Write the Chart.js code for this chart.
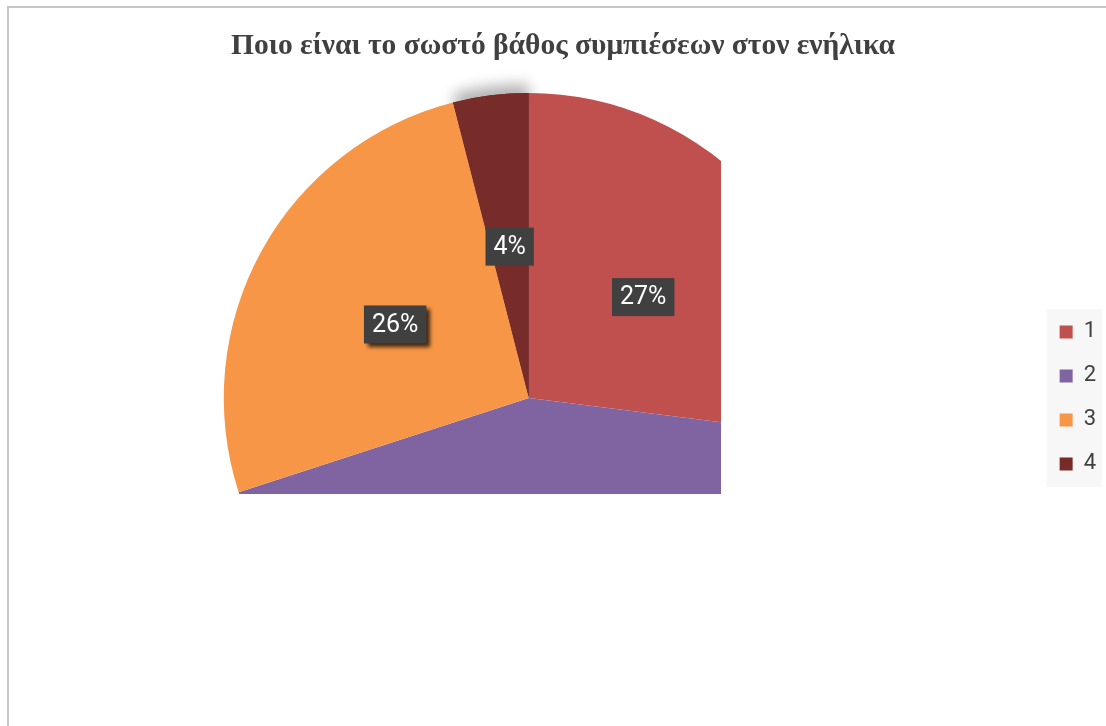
<!DOCTYPE html>
<html>
<head>
<meta charset="utf-8">
<script src="https://cdn.jsdelivr.net/npm/chart.js@4.4.0/dist/chart.umd.min.js"></script>
<style>
    html, body { margin: 0; padding: 0; background: #fff; overflow: hidden; }
    #marco {
        position: absolute; left: 7px; top: 6px; width: 1200px; height: 800px;
        border-left: 2px solid #c6c6c6; border-top: 2px solid #c6c6c6;
    }
    #grafico { position: absolute; left: 0; top: 0; }
</style>
</head>
<body>
<div id="marco"></div>
<canvas id="grafico" width="1106" height="726"></canvas>
<script>
const titulo = "Ποιο είναι το σωστό βάθος συμπιέσεων στον ενήλικα";
const categorias = ["1", "2", "3", "4"];
const porcentajes = [27, 43, 26, 4];
const colores = ["#C0504D", "#8064A2", "#F79646", "#772C2A"];

const ctx1 = document.getElementById("grafico").getContext("2d");

// el pastel queda cortado a la derecha y abajo
const recorte = { derecha: 721, abajo: 494 };

// fondo gris claro detrás de la leyenda
const pluginFondoLeyenda = {
    id: "fondoLeyenda",
    beforeDraw: (chart) => {
        const cajas = chart.legend.legendHitBoxes;
        if (!cajas || !cajas.length) return;
        const primera = cajas[0];
        const ultima = cajas[cajas.length - 1];
        const ctx = chart.ctx;
        ctx.save();
        ctx.fillStyle = "#f7f7f7";
        ctx.fillRect(
            primera.left - 13,
            primera.top - 12,
            55,
            ultima.top + ultima.height - primera.top + 24
        );
        ctx.restore();
    },
};

const pluginRecorte = {
    id: "recorte",
    beforeDatasetsDraw: (chart) => {
        const ctx = chart.ctx;
        ctx.save();
        ctx.beginPath();
        ctx.rect(0, 0, recorte.derecha, recorte.abajo);
        ctx.clip();
        // sombra suave sobre la porción 4
        const arco = chart.getDatasetMeta(0).data[3];
        ctx.save();
        ctx.shadowColor = "rgba(0, 0, 0, 0.3)";
        ctx.shadowBlur = 14;
        ctx.shadowOffsetY = -9;
        arco.draw(ctx);
        ctx.restore();
    },
    afterDatasetsDraw: (chart) => {
        const ctx = chart.ctx;
        const meta = chart.getDatasetMeta(0);
        ctx.font = "25px Roboto";
        ctx.textAlign = "center";
        ctx.textBaseline = "middle";
        meta.data.forEach((arco, i) => {
            const { x, y } = arco.tooltipPosition();
            const texto = porcentajes[i] + "%";
            const ancho = ctx.measureText(texto).width + 16;
            const alto = 38;
            ctx.save();
            if (i === 2) {
                ctx.shadowColor = "rgba(0, 0, 0, 0.75)";
                ctx.shadowBlur = 4;
                ctx.shadowOffsetX = 4;
                ctx.shadowOffsetY = 4;
            }
            ctx.fillStyle = "#404040";
            ctx.fillRect(x - ancho / 2, y - alto / 2, ancho, alto);
            ctx.restore();
            ctx.fillStyle = "#ffffff";
            ctx.fillText(texto, x, y + 1);
        });
        ctx.restore();
    },
};

new Chart(ctx1, {
    type: "pie",
    data: {
        labels: categorias,
        datasets: [
            {
                data: porcentajes,
                backgroundColor: colores,
                borderWidth: 0,
            },
        ],
    },
    options: {
        responsive: false,
        animation: false,
        layout: {
            padding: { left: 20, right: 0, top: 0, bottom: 23 },
        },
        plugins: {
            title: {
                display: true,
                text: titulo,
                color: "#404040",
                font: {
                    family: "'Liberation Serif', 'Times New Roman', serif",
                    size: 29.5,
                    weight: "bold",
                    lineHeight: 1.2,
                },
                padding: { top: 29, bottom: 28.5 },
            },
            legend: {
                position: "right",
                fullSize: false,
                labels: {
                    boxWidth: 13,
                    boxHeight: 13,
                    padding: 22,
                    color: "#404040",
                    font: { family: "Roboto", size: 22 },
                },
            },
            tooltip: { enabled: false },
        },
    },
    plugins: [pluginFondoLeyenda, pluginRecorte],
});
</script>
</body>
</html>
